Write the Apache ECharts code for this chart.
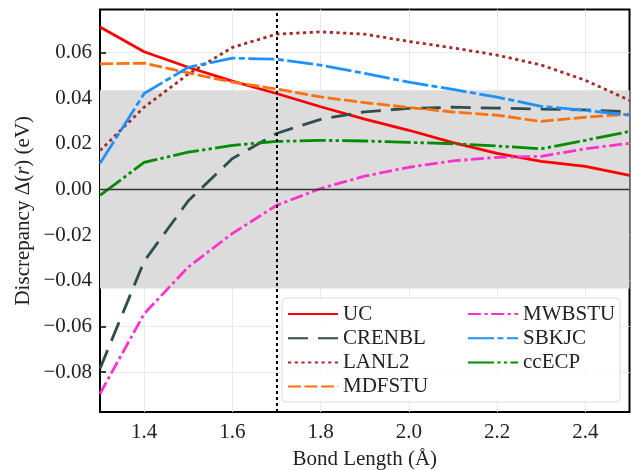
<!DOCTYPE html>
<html>
<head>
<meta charset="utf-8">
<script src="https://cdn.jsdelivr.net/npm/echarts@6/dist/echarts.min.js"></script>
<style>html,body{margin:0;padding:0;background:#fff}#c{width:631px;height:470px}</style>
</head>
<body>
<div id="c"></div>
<script>
const bondLength = [1.3,1.4,1.5,1.6,1.7,1.8,1.9,2.0,2.1,2.2,2.3,2.4,2.5];
const UC      = [0.0711,0.0603,0.0535,0.0474,0.0420,0.0362,0.0308,0.0259,0.0205,0.0158,0.0123,0.0101,0.0061];
const CRENBL  = [-0.0785,-0.0315,-0.0050,0.0135,0.0245,0.0307,0.0340,0.0355,0.0360,0.0356,0.0352,0.0348,0.0340];
const LANL2   = [0.0170,0.0360,0.0505,0.0622,0.0680,0.0690,0.0680,0.0648,0.0620,0.0588,0.0545,0.0478,0.0390];
const MDFSTU  = [0.0550,0.0553,0.0510,0.0470,0.0440,0.0405,0.0380,0.0359,0.0339,0.0325,0.0298,0.0316,0.0330];
const MWBSTU  = [-0.0895,-0.0545,-0.0340,-0.0193,-0.0070,0.0004,0.0058,0.0097,0.0125,0.0140,0.0145,0.0178,0.0202];
const SBKJC   = [0.0114,0.0420,0.0535,0.0575,0.0570,0.0544,0.0508,0.0470,0.0438,0.0404,0.0364,0.0346,0.0325];
const ccECP   = [-0.0026,0.0118,0.0163,0.0193,0.0210,0.0215,0.0212,0.0206,0.0200,0.0190,0.0178,0.0215,0.0254];
const xTicks = [1.4,1.6,1.8,2.0,2.2,2.4];
const yTicks = [-0.08,-0.06,-0.04,-0.02,0.00,0.02,0.04,0.06];
const bandLimit = 0.0434;
const refBond = 1.7;

const FONT = 'Liberation Serif';
const FS = 21;
const pairs = v => bondLength.map((x,i)=>[x,v[i]]);
function mk(name, vals, color, type){
  return {name, type:'line', data:pairs(vals), symbol:'none', showSymbol:false, z:3,
    lineStyle:{color, width:2.8, type, cap:'butt'}, itemStyle:{color}, emphasis:{disabled:true}};
}
const series = [
  {type:'line', data:[], z:-1, silent:true,
   markArea:{silent:true, itemStyle:{color:'#dcdcdc'}, data:[[{yAxis:-bandLimit},{yAxis:bandLimit}]]}},
  mk('UC', UC, '#ff0000', 'solid'),
  mk('CRENBL', CRENBL, '#2f4f4f', [20,10]),
  mk('LANL2', LANL2, '#a52a2a', [3.2,3.5]),
  mk('MDFSTU', MDFSTU, '#ff7010', [13,3.5]),
  mk('MWBSTU', MWBSTU, '#ff33cc', [13,3.5,3.2,3.5]),
  mk('SBKJC', SBKJC, '#1e90ff', [26,3.5,6,3.5]),
  mk('ccECP', ccECP, '#008c00', [26,3.3,3.3,3.3,3.3,3.3]),
  {type:'line', data:[], z:1, silent:true,
   markLine:{silent:true, symbol:'none', label:{show:false},
     lineStyle:{color:'#333', width:1.3, type:'solid'}, data:[{yAxis:0}]}},
  {type:'line', data:[], z:5, silent:true,
   markLine:{silent:true, symbol:'none', label:{show:false},
     lineStyle:{color:'#000', width:2, type:[3,3]}, data:[{xAxis:refBond}]}}
];
const legendCommon = {orient:'vertical', top:303.5, itemWidth:50, itemHeight:14, itemGap:3.2, padding:0,
  itemStyle:{opacity:0}, textStyle:{fontFamily:FONT, fontSize:FS, color:'#222'}, z:5, selectedMode:false};
const chart = echarts.init(document.getElementById('c'), null, {renderer:'canvas'});
chart.setOption({
  animation:false,
  textStyle:{fontFamily:FONT},
  grid:{left:100, right:1.5, top:9.5, bottom:58, outerBoundsMode:'none', containLabel:false,
    show:true, borderColor:'#000', borderWidth:2, backgroundColor:'transparent'},
  xAxis:{type:'value', min:1.3, max:2.5,
    name:'Bond Length (Å)', nameLocation:'middle', nameGap:37, nameMoveOverlap:false,
    nameTextStyle:{fontFamily:FONT, fontSize:FS, color:'#222'},
    axisLine:{show:false},
    axisTick:{show:true, inside:true, length:6, customValues:xTicks, lineStyle:{color:'#000', width:1.5}},
    axisLabel:{customValues:xTicks, margin:10, fontFamily:FONT, fontSize:FS, color:'#222', formatter:v=>v.toFixed(1)},
    splitLine:{show:true, lineStyle:{color:'#e9e9e9', width:1}}
  },
  yAxis:{type:'value', min:-0.0975, max:0.0788,
    name:'Discrepancy Δ({i|r}) (eV)', nameLocation:'middle', nameGap:66, nameMoveOverlap:false,
    nameTextStyle:{fontFamily:FONT, fontSize:FS, color:'#222', rich:{i:{fontFamily:FONT, fontSize:FS, fontStyle:'italic', color:'#222'}}},
    axisLine:{show:false},
    axisTick:{show:true, inside:true, length:6, customValues:yTicks, lineStyle:{color:'#000', width:1.5}},
    axisLabel:{customValues:yTicks, margin:8, fontFamily:FONT, fontSize:FS, color:'#222',
      formatter:v=> (v< -1e-9 ? '−' : '') + Math.abs(v).toFixed(2)},
    splitLine:{show:true, lineStyle:{color:'#e9e9e9', width:1}}
  },
  graphic:[{type:'rect', z:3, shape:{x:282, y:298, width:338, height:104, r:4},
    style:{fill:'rgba(255,255,255,0.85)', stroke:'#dddddd', lineWidth:1}}],
  legend:[
    Object.assign({data:['UC','CRENBL','LANL2','MDFSTU'], left:287}, legendCommon),
    Object.assign({data:['MWBSTU','SBKJC','ccECP'], left:467}, legendCommon)
  ],
  series
});
</script>
</body>
</html>
